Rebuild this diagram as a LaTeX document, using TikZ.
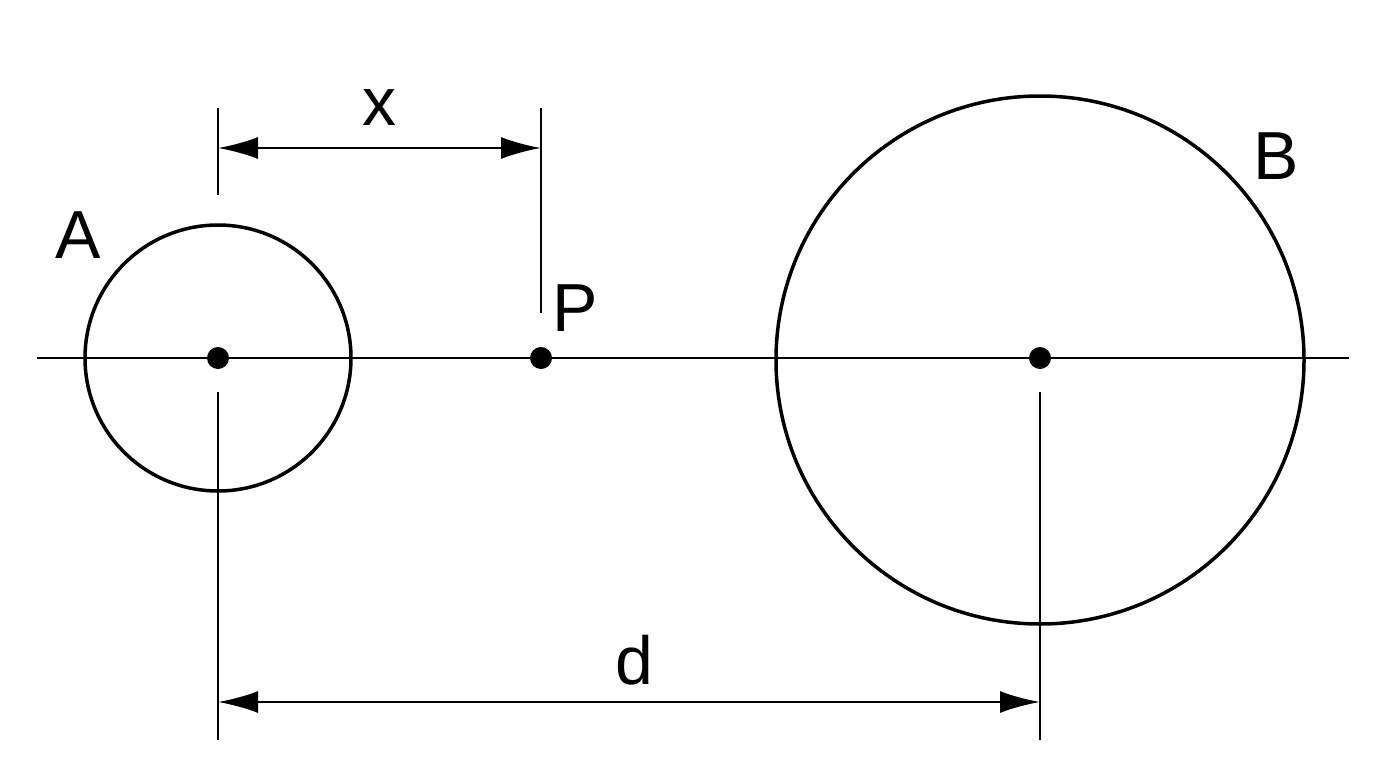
\documentclass[tikz,border=0pt]{standalone}
\usepackage{fontspec}
\setmainfont{Liberation Sans}
\usetikzlibrary{arrows.meta}
\begin{document}
\begin{tikzpicture}[x=1pt,y=-1pt,
  ln/.style={line width=2.5pt},
  circ/.style={line width=3.5pt},
  dim/.style={line width=2.5pt,{Latex[length=40pt,width=22pt]}-{Latex[length=40pt,width=22pt]}},
  lbl/.style={font=\fontsize{68}{68}\selectfont,inner sep=0pt},
  dotc/.style={circle,fill=black,minimum size=22pt,inner sep=0pt}]
\useasboundingbox (0,0) rectangle (1376,768);
\coordinate (L) at (37,358); \coordinate (R) at (1349,358);
\draw[ln] (L) -- (R);
\draw[circ] (218,358) circle[radius=133];
\draw[circ] (1040,360) circle[radius=264];
\node[dotc] (a) at (218,358) {};
\node[dotc] (p) at (541,358) {};
\node[dotc] (b) at (1040,358) {};
\coordinate (a1) at (218,108); \coordinate (a2) at (218,195);
\coordinate (p1) at (541,108); \coordinate (p2) at (541,313);
\coordinate (a3) at (218,392); \coordinate (a4) at (218,740);
\coordinate (b3) at (1040,392); \coordinate (b4) at (1040,740);
\draw[ln] (a1) -- (a2); \draw[ln] (p1) -- (p2);
\draw[ln] (a3) -- (a4); \draw[ln] (b3) -- (b4);
\coordinate (xs) at (218,148); \coordinate (xe) at (541,148);
\coordinate (ds) at (218,702); \coordinate (de) at (1040,702);
\draw[dim] (xs) -- (xe);
\draw[dim] (ds) -- (de);
\node[lbl] (lx) at (379,108) {x};
\node[lbl] (lA) at (78,235) {A};
\node[lbl] (lP) at (575,308) {P};
\node[lbl] (lB) at (1276,156) {B};
\node[lbl] (ld) at (634,660) {d};
\end{tikzpicture}
\end{document}
